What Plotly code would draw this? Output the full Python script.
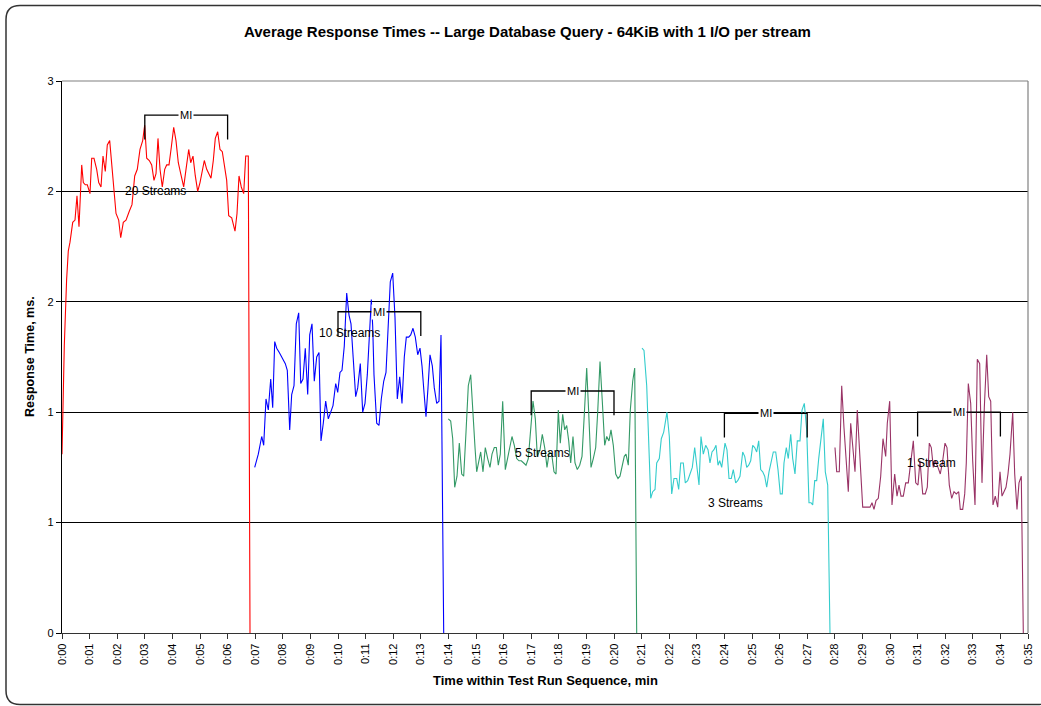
import plotly.graph_objects as go

# ---------------- data (time in minutes, response values) ----------------
t20 = [0.00, 0.083, 0.167, 0.228, 0.290, 0.388, 0.471, 0.543, 0.616, 0.714, 0.772, 0.844, 0.917, 1.014, 1.076,
       1.159, 1.257, 1.330, 1.413, 1.486, 1.569, 1.641, 1.728, 1.812, 1.884, 1.957, 2.054, 2.127, 2.221, 2.319,
       2.438, 2.536, 2.634, 2.728, 2.826, 2.924, 2.996, 3.069, 3.163, 3.250, 3.333, 3.406, 3.478, 3.551, 3.634,
       3.721, 3.793, 3.877, 3.960, 4.047, 4.130, 4.214, 4.301, 4.409, 4.493, 4.591, 4.663, 4.746, 4.830, 4.917,
       5.000, 5.072, 5.156, 5.243, 5.326, 5.399, 5.482, 5.554, 5.641, 5.725, 5.808, 5.895, 5.967, 6.040, 6.149,
       6.268, 6.341, 6.413, 6.496, 6.583, 6.656, 6.750, 6.812]
v20 = [0.81, 1.30, 1.60, 1.73, 1.77, 1.86, 1.87, 1.98, 1.84, 2.12, 2.04, 2.03, 2.03, 1.99, 2.15,
       2.15, 2.10, 2.04, 2.02, 2.16, 2.09, 2.21, 2.23, 2.11, 2.01, 1.90, 1.87, 1.79, 1.86, 1.87,
       1.91, 1.94, 2.07, 2.10, 2.19, 2.23, 2.30, 2.15, 2.14, 2.12, 2.05, 2.08, 2.24, 2.10, 2.02,
       2.10, 2.12, 2.12, 2.20, 2.29, 2.23, 2.13, 2.08, 2.02, 2.10, 2.19, 2.13, 2.16, 2.07, 2.00,
       2.04, 2.09, 2.14, 2.10, 2.08, 2.06, 2.14, 2.24, 2.27, 2.19, 2.18, 2.10, 2.05, 1.89, 1.88,
       1.82, 1.90, 2.07, 2.02, 1.99, 2.16, 2.16, 0.00]

t10 = [6.982, 7.112, 7.236, 7.308, 7.391, 7.475, 7.562, 7.634, 7.707, 7.779, 7.873, 7.960, 8.018, 8.091, 8.163,
       8.250, 8.322, 8.406, 8.489, 8.576, 8.649, 8.732, 8.815, 8.902, 8.975, 9.058, 9.141, 9.228, 9.312, 9.384,
       9.467, 9.554, 9.649, 9.736, 9.819, 9.917, 9.989, 10.072, 10.145, 10.228, 10.315, 10.399, 10.471, 10.554,
       10.641, 10.714, 10.808, 10.895, 10.978, 11.062, 11.134, 11.207, 11.257, 11.304, 11.402, 11.486, 11.569,
       11.656, 11.739, 11.822, 11.895, 11.982, 12.065, 12.149, 12.236, 12.319, 12.402, 12.475, 12.562, 12.634,
       12.717, 12.801, 12.888, 12.971, 13.043, 13.116, 13.188, 13.261, 13.333, 13.417, 13.489, 13.576, 13.659,
       13.732, 13.830]
v10 = [0.75, 0.81, 0.89, 0.85, 1.06, 1.01, 1.15, 1.02, 1.32, 1.29, 1.27, 1.25, 1.23, 1.22, 1.19,
       0.92, 1.08, 1.12, 1.40, 1.45, 1.13, 1.15, 1.29, 1.08, 1.35, 1.40, 1.14, 1.25, 1.27, 0.87,
       0.95, 1.05, 0.97, 1.00, 1.03, 1.13, 1.09, 1.18, 1.19, 1.30, 1.54, 1.44, 1.40, 1.24,
       1.07, 1.11, 1.22, 1.00, 1.04, 1.17, 1.33, 1.51, 1.39, 1.17, 0.95, 0.94, 1.06,
       1.14, 1.18, 1.38, 1.59, 1.63, 1.43, 1.06, 1.16, 1.04, 1.25, 1.34, 1.34, 1.35,
       1.38, 1.34, 1.26, 1.29, 1.21, 1.09, 0.98, 1.11, 1.26, 1.21, 1.11, 1.04, 1.05,
       1.35, 0.00]

t5 = [13.996, 14.083, 14.156, 14.228, 14.312, 14.395, 14.482, 14.554, 14.638, 14.721, 14.808, 14.880, 14.964,
      15.025, 15.098, 15.170, 15.254, 15.337, 15.424, 15.507, 15.580, 15.663, 15.736, 15.808, 15.880, 15.967,
      16.062, 16.149, 16.232, 16.304, 16.388, 16.475, 16.558, 16.641, 16.728, 16.812, 16.895, 16.982, 17.065,
      17.149, 17.221, 17.319, 17.402, 17.489, 17.572, 17.656, 17.743, 17.826, 17.899, 17.982, 18.054, 18.141,
      18.214, 18.286, 18.359, 18.431, 18.514, 18.587, 18.670, 18.757, 18.841, 18.924, 19.011, 19.083, 19.167,
      19.250, 19.337, 19.409, 19.493, 19.576, 19.663, 19.736, 19.819, 19.891, 19.975, 20.062, 20.145, 20.217,
      20.301, 20.373, 20.435, 20.518, 20.591, 20.678, 20.750, 20.822]
v5 = [0.97, 0.96, 0.88, 0.66, 0.71, 0.86, 0.72, 0.71, 0.91, 1.12, 1.17, 1.00, 0.84,
      0.73, 0.77, 0.82, 0.73, 0.84, 0.79, 0.75, 0.81, 0.84, 0.84, 0.76, 0.81, 1.05,
      0.74, 0.80, 0.84, 0.89, 0.85, 0.79, 0.78, 0.78, 0.77, 0.76, 0.79, 0.92, 1.05,
      0.97, 0.80, 0.83, 0.90, 0.84, 0.75, 0.82, 0.81, 0.73, 0.72, 1.01, 0.86, 0.99,
      0.92, 0.94, 0.87, 0.77, 0.89, 0.77, 0.74, 0.76, 0.80, 0.99, 1.20, 1.00, 0.75,
      0.79, 0.84, 1.00, 1.23, 1.05, 0.85, 0.89, 0.87, 0.92, 0.85, 0.72, 0.70, 0.71,
      0.76, 0.80, 0.81, 0.76, 1.01, 1.14, 1.20, 0.00]

t3 = [21.014, 21.087, 21.185, 21.243, 21.330, 21.402, 21.486, 21.547, 21.641, 21.714, 21.801, 21.920, 22.004,
      22.091, 22.174, 22.272, 22.344, 22.417, 22.511, 22.583, 22.670, 22.754, 22.837, 22.924, 22.996, 23.080,
      23.152, 23.236, 23.322, 23.406, 23.478, 23.551, 23.623, 23.696, 23.768, 23.830, 23.902, 24.022, 24.094,
      24.167, 24.250, 24.322, 24.409, 24.482, 24.565, 24.663, 24.736, 24.808, 24.880, 24.953, 25.025, 25.098,
      25.170, 25.243, 25.315, 25.388, 25.460, 25.533, 25.616, 25.688, 25.772, 25.859, 25.942, 26.025, 26.098,
      26.159, 26.243, 26.315, 26.402, 26.475, 26.558, 26.641, 26.739, 26.812, 26.895, 26.982, 27.065, 27.138,
      27.199, 27.272, 27.344, 27.417, 27.500, 27.583, 27.656, 27.743, 27.826]
v3 = [1.29, 1.28, 1.12, 0.92, 0.61, 0.64, 0.65, 0.77, 0.79, 0.88, 0.91, 1.00, 0.89,
      0.63, 0.70, 0.70, 0.65, 0.77, 0.77, 0.68, 0.69, 0.72, 0.75, 0.84, 0.75, 0.67,
      0.89, 0.81, 0.85, 0.83, 0.77, 0.82, 0.83, 0.85, 0.76, 0.78, 0.75, 0.86, 0.83,
      0.70, 0.70, 0.74, 0.68, 0.69, 0.71, 0.82, 0.80, 0.75, 0.76, 0.78, 0.85, 0.84,
      0.82, 0.87, 0.74, 0.73, 0.71, 0.66, 0.73, 0.78, 0.82, 0.82, 0.74, 0.63, 0.63,
      0.77, 0.84, 0.79, 0.90, 0.79, 0.72, 0.87, 0.87, 1.01, 1.04, 0.92, 0.59, 0.59,
      0.58, 0.69, 0.69, 0.79, 0.89, 0.97, 0.73, 0.67, 0.00]

t1 = [28.007, 28.069, 28.163, 28.250, 28.333, 28.406, 28.489, 28.576, 28.649, 28.732, 28.815, 28.902, 29.011,
      29.094, 29.192, 29.275, 29.348, 29.420, 29.493, 29.576, 29.663, 29.746, 29.844, 29.902, 29.989, 30.072,
      30.170, 30.254, 30.326, 30.399, 30.482, 30.569, 30.663, 30.750, 30.845, 30.932, 31.014, 31.087, 31.185,
      31.279, 31.351, 31.424, 31.496, 31.569, 31.641, 31.739, 31.822, 31.909, 31.993, 32.065, 32.149, 32.236,
      32.319, 32.402, 32.489, 32.547, 32.634, 32.707, 32.764, 32.837, 32.924, 32.996, 33.080, 33.163, 33.250,
      33.333, 33.417, 33.504, 33.576, 33.649, 33.732, 33.815, 33.902, 33.986, 34.058, 34.130, 34.203, 34.275,
      34.348, 34.446, 34.518, 34.601, 34.674, 34.757, 34.830]
v1 = [0.84, 0.73, 0.73, 1.12, 0.93, 0.79, 0.64, 0.95, 0.85, 0.73, 1.01, 0.80, 0.57,
      0.57, 0.57, 0.57, 0.59, 0.56, 0.60, 0.61, 0.71, 0.88, 0.80, 0.95, 1.05, 0.58,
      0.72, 0.62, 0.67, 0.62, 0.62, 0.68, 0.68, 0.78, 0.87, 0.68, 0.67, 0.78, 0.63,
      0.63, 0.66, 0.86, 0.84, 0.75, 0.78, 0.75, 0.72, 0.78, 0.86, 0.84, 0.67, 0.61,
      0.64, 0.63, 0.64, 0.56, 0.56, 0.63, 0.77, 1.13, 1.04, 0.78, 0.58, 1.24, 1.22,
      0.68, 1.02, 1.26, 1.07, 1.05, 0.58, 0.62, 0.57, 0.73, 0.62, 0.64, 0.66, 0.72,
      0.81, 1.00, 0.72, 0.56, 0.68, 0.71, 0.00]

series_names = ["20 Streams", "10 Streams", "5 Streams", "3 Streams", "1 Stream"]
series_t = [t20, t10, t5, t3, t1]
series_v = [v20, v10, v5, v3, v1]
series_colors = ["#FF0000", "#0000FF", "#339966", "#33CCCC", "#993366"]

# label positions (time, value) for series labels
label_t = [3.4, 10.4, 17.4, 24.4, 31.5]
label_v = [2.0, 1.36, 0.815, 0.59, 0.77]

# measurement interval brackets
mi_start = [3, 10, 17, 24, 31]
mi_end = [6, 13, 20, 27, 34]
mi_level = [2.345, 1.455, 1.096, 0.995, 1.0]

tick_minutes = list(range(0, 36))
tick_labels = ["0:%02d" % m for m in tick_minutes]
y_tickvals = [0, 0.5, 1.0, 1.5, 2.0, 2.5]
y_ticklabels = ["0", "1", "1", "2", "2", "3"]

title_text = "Average Response Times -- Large Database Query - 64KiB with 1 I/O per stream"
x_title = "Time within Test Run Sequence, min"
y_title = "Response Time, ms."

# ---------------- figure ----------------
W, H = 1041, 706
L, R, T, B = 62, 1028, 81, 633
FONT = "Arial, Liberation Sans, sans-serif"


def px(x):
    return (x - L) / (R - L)


def py(y):
    return (B - y) / (B - T)


fig = go.Figure()
for name, tt, vv, c in zip(series_names, series_t, series_v, series_colors):
    fig.add_trace(go.Scatter(x=tt, y=vv, mode="lines", name=name,
                             line=dict(color=c, width=1.1)))

shapes = []
annotations = []

# brackets
for s, e, lv in zip(mi_start, mi_end, mi_level):
    d = 0.11
    shapes.append(dict(type="path", xref="x", yref="y",
                       path=f"M {s},{lv - d} L {s},{lv} L {e},{lv} L {e},{lv - d}",
                       line=dict(color="#000000", width=1.3)))
    annotations.append(dict(x=(s + e) / 2, y=lv, xref="x", yref="y", text="MI",
                            showarrow=False, bgcolor="white", borderpad=1,
                            font=dict(family=FONT, size=11, color="#000000")))

for name, lt, lv in zip(series_names, label_t, label_v):
    annotations.append(dict(x=lt, y=lv, xref="x", yref="y", text=name, showarrow=False,
                            font=dict(family=FONT, size=12, color="#000000")))

# plot-area top & right gray border
shapes.append(dict(type="line", xref="paper", yref="paper", x0=0, x1=1, y0=1, y1=1,
                   line=dict(color="#808080", width=1.2), layer="above"))
shapes.append(dict(type="line", xref="paper", yref="paper", x0=1, x1=1, y0=0, y1=1,
                   line=dict(color="#808080", width=1.2), layer="above"))

# outer rounded chart frame
x0, y0, x1, y1, r = 6, 5.5, 1052, 704.5, 14
path = (f"M {px(x0)},{py(y0 + r)} Q {px(x0)},{py(y0)} {px(x0 + r)},{py(y0)} "
        f"L {px(x1 - r)},{py(y0)} Q {px(x1)},{py(y0)} {px(x1)},{py(y0 + r)} "
        f"L {px(x1)},{py(y1 - r)} Q {px(x1)},{py(y1)} {px(x1 - r)},{py(y1)} "
        f"L {px(x0 + r)},{py(y1)} Q {px(x0)},{py(y1)} {px(x0)},{py(y1 - r)} Z")
shapes.append(dict(type="path", xref="paper", yref="paper", path=path,
                   line=dict(color="#333333", width=1.5)))

# titles
annotations.append(dict(x=px(527), y=py(31), xref="paper", yref="paper", text="<b>" + title_text + "</b>",
                        showarrow=False, xanchor="center", yanchor="middle",
                        font=dict(family=FONT, size=15, color="#000000")))
annotations.append(dict(x=px(545), y=py(680), xref="paper", yref="paper", text="<b>" + x_title + "</b>",
                        showarrow=False, xanchor="center", yanchor="middle",
                        font=dict(family=FONT, size=13, color="#000000")))
annotations.append(dict(x=px(30), y=py(357), xref="paper", yref="paper", text="<b>" + y_title + "</b>",
                        showarrow=False, xanchor="center", yanchor="middle", textangle=-90,
                        font=dict(family=FONT, size=12.5, color="#000000")))

fig.update_layout(
    width=W, height=H, autosize=False,
    margin=dict(l=L, r=W - R, t=T, b=H - B, pad=0),
    paper_bgcolor="white", plot_bgcolor="white",
    showlegend=False,
    shapes=shapes, annotations=annotations,
    xaxis=dict(range=[0, 35], tickmode="array", tickvals=tick_minutes, ticktext=tick_labels,
               tickangle=-90, ticks="outside", ticklen=5, tickcolor="#333333", automargin=False,
               showgrid=False, zeroline=False, showline=True, linecolor="#333333", linewidth=1.2,
               tickfont=dict(family=FONT, size=11, color="#000000")),
    yaxis=dict(range=[0, 2.5], tickmode="array", tickvals=y_tickvals, ticktext=y_ticklabels,
               ticks="outside", ticklen=5, tickcolor="#000000", automargin=False,
               showgrid=True, gridcolor="#000000", gridwidth=1, zeroline=False,
               showline=True, linecolor="#000000", linewidth=1.2,
               tickfont=dict(family=FONT, size=11, color="#000000")),
)

fig.write_html("out.html", config={"displayModeBar": False},
               post_script="document.body.style.margin='0';document.body.style.overflow='hidden';")
